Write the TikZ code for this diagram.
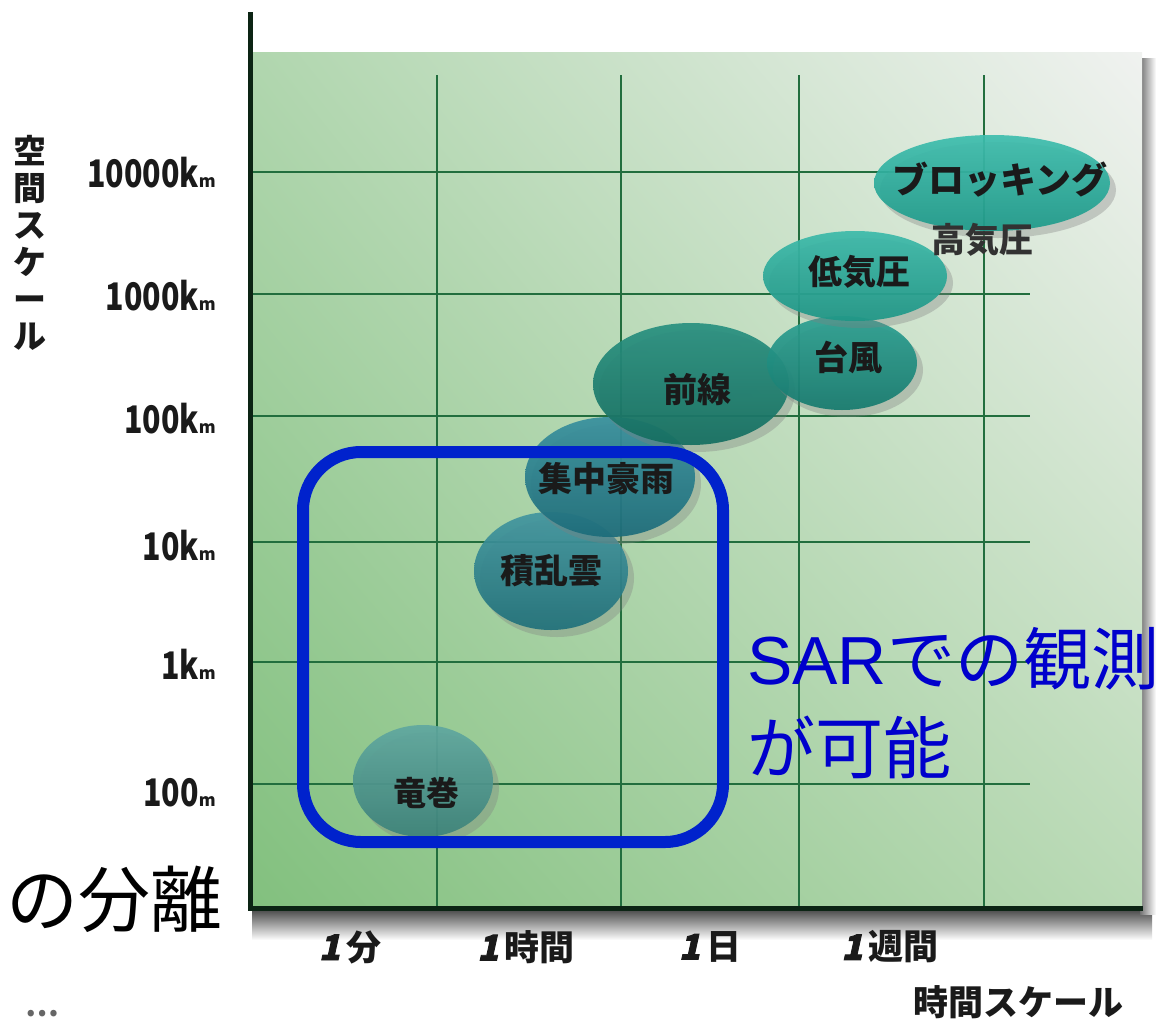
\documentclass[tikz,border=0pt]{standalone}
\usepackage{fontspec}
\newfontfamily\jp{Noto Sans CJK JP}
\newfontfamily\jpsl{Noto Sans CJK JP}[FakeSlant=0.22, FakeBold=2.5]
\newfontfamily\lat{Liberation Sans}
\usetikzlibrary{shapes.geometric,shadows,shadings}
\definecolor{gUL}{RGB}{176,214,174}
\definecolor{gUR}{RGB}{240,242,240}
\definecolor{gLL}{RGB}{130,192,126}
\definecolor{gLR}{RGB}{186,218,182}
\definecolor{gridc}{RGB}{34,110,62}
\definecolor{axisc}{RGB}{12,36,20}
\definecolor{sarblue}{RGB}{0,34,204}
\definecolor{sartext}{RGB}{0,0,204}
\definecolor{labc}{RGB}{26,26,26}
\newcommand{\ylabtext}[1]{\scalebox{0.8}[1]{#1}\scalebox{0.45}{m}}
\begin{document}
\begin{tikzpicture}[x=1pt,y=-1pt,
  blob/.style={ellipse, inner sep=0pt, fill opacity=0.92, text opacity=1,
    font=\jp\bfseries\fontsize{34}{38}\selectfont, text=labc,
    drop shadow={shadow xshift=6pt, shadow yshift=-7pt, opacity=0.35}},
  ylab/.style={anchor=east, inner sep=0pt, font=\jp\bfseries\fontsize{38}{40}\selectfont, text=labc},
  xlab/.style={inner sep=0pt, font=\jp\bfseries\fontsize{35}{38}\selectfont, text=labc},
  gridline/.style={draw=gridc, line width=2pt},
  sarline/.style={font=\jp\fontsize{68}{70}\selectfont, text=sartext, inner sep=0pt, anchor=base west}]
\useasboundingbox (0,0) rectangle (1172,1020);
\fill[white] (0,0) rectangle (1172,1020);
% shadows of the frame
\shade[top color=black!72, bottom color=white] (252,909) rectangle (1152,940);
\shade[left color=black!55, right color=white] (1140,58) rectangle (1156,914);
% plot area
\shade[upper left=gUL, upper right=gUR, lower left=gLL, lower right=gLR] (249,52) rectangle (1142,908);
% grid
\foreach \gx in {437,621,799,984} \draw[gridline] (\gx,75) -- (\gx,908);
\foreach \gy in {172,294,416,542,662,784} \draw[gridline] (249,\gy) -- (1030,\gy);
% axes
\draw[axisc, line width=5pt] (250,12) -- (250,910);
\draw[axisc, line width=5pt] (248,908) -- (1143,908);
% blobs
\node[blob, top color={rgb,255:red,96;green,168;blue,160}, bottom color={rgb,255:red,60;green,130;blue,122}, minimum width=140pt, minimum height=112pt] (tornado) at (423,781) {};
\node[xlab, font=\jp\bfseries\fontsize{33}{36}\selectfont] (tornadolab) at (426,793) {竜巻};
\node[blob, top color={rgb,255:red,66;green,150;blue,160}, bottom color={rgb,255:red,32;green,112;blue,122}, minimum width=154pt, minimum height=118pt] (cb) at (551,571) {積乱雲};
\node[blob, top color={rgb,255:red,56;green,144;blue,158}, bottom color={rgb,255:red,28;green,108;blue,122}, minimum width=170pt, minimum height=120pt] (heavy) at (610,477) {};
\node[xlab, font=\jp\bfseries\fontsize{34}{38}\selectfont] (heavylab) at (606,479) {集中豪雨};
\node[blob, top color={rgb,255:red,40;green,144;blue,128}, bottom color={rgb,255:red,20;green,110;blue,96}, minimum width=196pt, minimum height=122pt] (front) at (691,384) {};
\node[xlab, font=\jp\bfseries\fontsize{34}{38}\selectfont] (frontlab) at (697,390) {前線};
\node[blob, top color={rgb,255:red,44;green,160;blue,146}, bottom color={rgb,255:red,22;green,122;blue,110}, minimum width=150pt, minimum height=94pt] (typhoon) at (842,363) {};
\node[xlab, font=\jp\bfseries\fontsize{34}{38}\selectfont] (typhoonlab) at (848,357) {台風};
\node[blob, top color={rgb,255:red,60;green,186;blue,170}, bottom color={rgb,255:red,30;green,150;blue,134}, minimum width=184pt, minimum height=90pt] (low) at (855,276) {};
\node[xlab, font=\jp\bfseries\fontsize{34}{38}\selectfont] (lowlab) at (859,272) {低気圧};
\node[blob, top color={rgb,255:red,62;green,190;blue,174}, bottom color={rgb,255:red,30;green,154;blue,138}, minimum width=236pt, minimum height=96pt] (block) at (992,183) {};
\node[xlab, font=\jp\bfseries\fontsize{36}{38}\selectfont] (blocklab) at (1000,180) {ブロッキング};
\node[xlab, font=\jp\bfseries\fontsize{34}{38}\selectfont, text={rgb,255:red,50;green,50;blue,50}] (high) at (982,240) {高気圧};
% blue frame
\node[draw=sarblue, line width=12pt, rounded corners=58pt, minimum width=420pt, minimum height=390pt, inner sep=0pt] (sarbox) at (513,647) {};
\node[sarline] (sar1) at (747,684) {{\lat SAR}での観測};
\node[sarline] (sar2) at (747,773) {が可能};
% y axis
\node[inner sep=0pt, align=center, font=\jp\bfseries\fontsize{33}{37}\selectfont, text=labc] (ytitle) at (30,243) {空\\間\\ス\\ケ\\ー\\ル};
\node[ylab] (y1) at (216,173) {\ylabtext{10000k}};
\node[ylab] (y2) at (216,296) {\ylabtext{1000k}};
\node[ylab] (y3) at (216,419) {\ylabtext{100k}};
\node[ylab] (y4) at (216,546) {\ylabtext{10k}};
\node[ylab] (y5) at (216,664) {\ylabtext{1k}};
\node[ylab] (y6) at (216,793) {\ylabtext{100}};
% x axis
\node[xlab] (x1) at (350,947) {{\jpsl 1}\,分};
\node[xlab] (x2) at (526,947) {{\jpsl 1}\,時間};
\node[xlab] (x3) at (710,947) {{\jpsl 1}\,日};
\node[xlab] (x4) at (890,947) {{\jpsl 1}\,週間};
\node[xlab] (xtitle) at (1018,1002) {時間スケール};
% slide fragments
\node[inner sep=0pt, anchor=base west, font=\jp\fontsize{72}{80}\selectfont] (sep) at (6,926) {の分離};
\node[inner sep=0pt, font=\jp\bfseries\fontsize{30}{32}\selectfont, text=black!60] (dots) at (42,1014) {…};
\end{tikzpicture}
\end{document}
